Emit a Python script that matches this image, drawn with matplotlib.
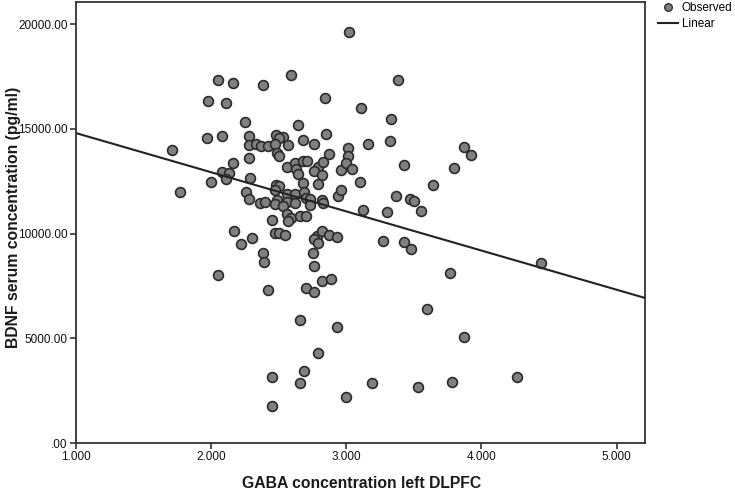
import matplotlib
matplotlib.use("Agg")
import matplotlib.pyplot as plt
from matplotlib.lines import Line2D

plt.rcParams['font.family'] = ['Liberation Sans', 'DejaVu Sans']

# GABA concentration left DLPFC (x) and BDNF serum concentration pg/ml (y)
gaba = [3.02, 2.05, 2.16, 2.38, 2.59, 1.98, 2.11, 2.84, 2.25, 2.64,
        1.97, 2.08, 2.28, 2.48, 2.53, 2.50, 2.85, 2.68, 2.76, 2.28,
        2.33, 2.37, 2.42, 2.47, 2.57, 1.71, 3.01, 2.49, 2.50, 2.28,
        2.87, 3.01, 2.16, 2.56, 2.62, 2.63, 2.64, 2.68, 2.71, 2.79,
        2.83, 2.76, 2.82, 2.96, 3.00, 2.08, 2.13, 2.11, 2.00, 2.29,
        1.77, 2.68, 2.79, 2.48, 2.50, 2.47, 2.26, 2.28, 2.36, 2.40,
        2.49, 2.47, 2.56, 2.56, 2.53, 2.62, 2.62, 2.69, 2.70, 2.73,
        2.73, 2.82, 2.83, 2.94, 2.96, 2.56, 2.59, 2.57, 2.66, 2.70,
        2.45, 2.17, 2.22, 2.30, 2.47, 2.50, 2.55, 2.78, 2.82, 2.87,
        2.93, 2.76, 2.79, 2.38, 2.39, 2.75, 2.76, 2.05, 2.42, 2.70,
        2.82, 2.89, 2.76, 2.66, 2.93, 2.79, 2.69, 2.45, 2.66, 3.00,
        2.45, 3.38, 3.11, 3.33, 3.32, 3.16, 3.87, 3.92, 3.04, 3.43,
        3.80, 3.10, 3.37, 3.47, 3.50, 3.64, 3.12, 3.30, 3.55, 3.27,
        3.43, 3.48, 3.77, 3.60, 3.87, 3.19, 3.53, 3.78, 4.26, 4.44]
bdnf = [19630, 17340, 17190, 17100, 17570, 16330, 16240, 16480, 15330, 15190,
        14570, 14660, 14660, 14710, 14610, 14570, 14760, 14470, 14280, 14230,
        14280, 14180, 14180, 14280, 14230, 13990, 14090, 13850, 13710, 13610,
        13800, 13710, 13370, 13180, 13370, 13080, 12850, 13470, 13470, 13180,
        13420, 12990, 12800, 13040, 13370, 12940, 12890, 12610, 12460, 12660,
        11990, 12420, 12370, 12320, 12270, 12080, 11990, 11650, 11460, 11510,
        11600, 11410, 11890, 11510, 11320, 11890, 11460, 11990, 11700, 11650,
        11370, 11600, 11460, 11800, 12080, 10940, 10750, 10600, 10840, 10840,
        10650, 10120, 9500, 9790, 10030, 10030, 9930, 9890, 10120, 9930,
        9840, 9740, 9550, 9070, 8640, 9070, 8450, 8020, 7310, 7400,
        7740, 7830, 7210, 5870, 5540, 4300, 3440, 3150, 2870, 2200,
        1770, 17340, 16000, 15470, 14420, 14280, 14140, 13750, 13080, 13280,
        13130, 12460, 11800, 11650, 11560, 12320, 11130, 11030, 11080, 9650,
        9600, 9260, 8120, 6400, 5060, 2870, 2670, 2910, 3150, 8600]

# Linear fit line (intercept at x=0 and slope)
fit_intercept = 16670
fit_slope = -1870

x_ticks = [1.0, 2.0, 3.0, 4.0, 5.0]
x_ticklabels = ["1.000", "2.000", "3.000", "4.000", "5.000"]
y_ticks = [0, 5000, 10000, 15000, 20000]
y_ticklabels = [".00", "5000.00", "10000.00", "15000.00", "20000.00"]
x_lim = (1.0, 5.21)
y_lim = (0, 21075)

fig = plt.figure(figsize=(7.35, 4.91), dpi=100)
ax = fig.add_axes([76 / 735, 1 - 443 / 491, (645 - 76) / 735, (443 - 1.7) / 491])

ax.scatter(gaba, bdnf, s=50, facecolor='#808080', edgecolor='#2a2a2a',
           linewidths=1.2, zorder=3)
fx = list(x_lim)
fy = [fit_intercept + fit_slope * v for v in fx]
ax.plot(fx, fy, color='#222222', lw=1.5, zorder=4)

ax.set_xlim(*x_lim)
ax.set_ylim(*y_lim)
ax.set_xticks(x_ticks)
ax.set_xticklabels(x_ticklabels)
ax.set_yticks(y_ticks)
ax.set_yticklabels(y_ticklabels)

for side in ['left', 'bottom', 'top', 'right']:
    ax.spines[side].set_color('#333333')
    ax.spines[side].set_linewidth(1.3)
ax.tick_params(axis='both', direction='out', length=4, width=1.2,
               color='#333333', labelsize=8.5, labelcolor='#111111', pad=2)

ax.set_xlabel("GABA concentration left DLPFC", fontsize=11.3, fontweight='bold',
              color='#1a1a1a')
ax.xaxis.set_label_coords((362 - 76) / 569, (443 - 484) / 441.3)
ax.xaxis.label.set_va('center')
ax.set_ylabel("BDNF serum concentration (pg/ml)", fontsize=11.3, fontweight='bold',
              color='#1a1a1a')
ax.yaxis.set_label_coords((14 - 76) / 569, (443 - 217) / 441.3)
ax.yaxis.label.set_va('center')

handles = [
    Line2D([], [], marker='o', linestyle='none', markersize=5.5,
           markerfacecolor='#808080', markeredgecolor='#333333', markeredgewidth=1.0),
    Line2D([], [], color='#222222', lw=1.5),
]
ax.legend(handles, ["Observed", "Linear"], loc='upper left',
          bbox_to_anchor=((658 - 76) / 569, (443 - 2) / 441.3),
          frameon=False, fontsize=8.5, borderpad=0, borderaxespad=0,
          handlelength=1.7, handletextpad=0.3, labelspacing=0.35)

fig.savefig("out.png", dpi=100)
